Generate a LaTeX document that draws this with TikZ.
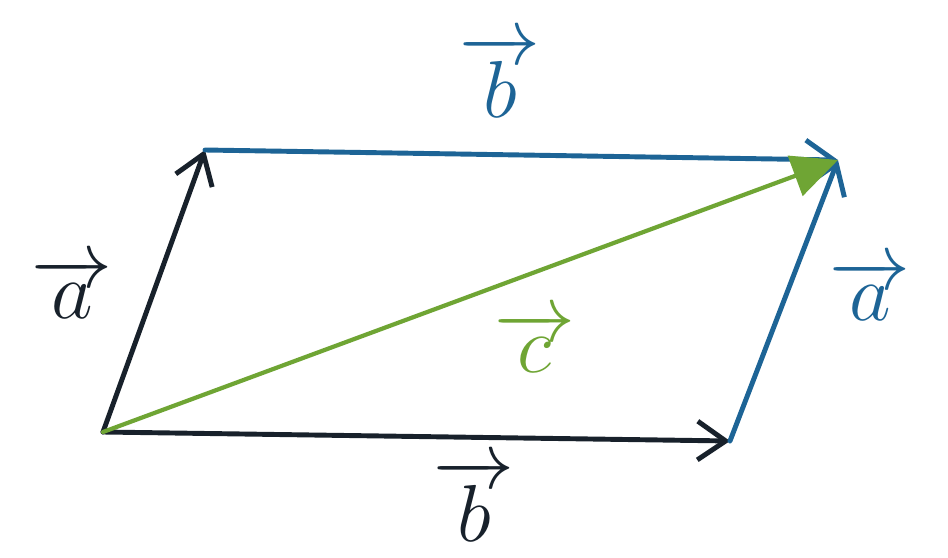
\documentclass[tikz,border=0pt]{standalone}
\usetikzlibrary{arrows.meta}
\definecolor{inkblack}{HTML}{18212B}
\definecolor{inkblue}{HTML}{1D6496}
\definecolor{inkgreen}{HTML}{6FA534}
\begin{document}
\begin{tikzpicture}[x=0.02cm,y=-0.02cm,
  vec/.style={line width=2.8pt,line cap=round,-{Straight Barb[length=16pt,width=22pt,line width=2.8pt]}},
  res/.style={line width=2.4pt,line cap=round,-{Triangle[length=26pt,width=24pt]}},
  lbl/.style={inner sep=0pt,font=\Huge,scale=1.85,transform shape}]
\useasboundingbox (0,0) rectangle (948,558);
\fill[white] (0,0) rectangle (948,558);
\coordinate (O) at (103,432);
\coordinate (A) at (205,150);
\coordinate (B) at (730,441);
\coordinate (C) at (838,160);
\draw[vec,inkblack] (O) -- (A);
\draw[vec,inkblack] (O) -- (B);
\draw[vec,inkblue] (A) -- (C);
\draw[vec,inkblue] (B) -- (C);
\draw[res,inkgreen] (O) -- (C);
\node[lbl,inkblack] (la) at (72,288) {$\overrightarrow{a}$};
\node[lbl,inkblue] (lb) at (500,76) {$\overrightarrow{b}$};
\node[lbl,inkblue] (ra) at (870,290) {$\overrightarrow{a}$};
\node[lbl,inkgreen] (lc) at (535,342) {$\overrightarrow{c}$};
\node[lbl,inkblack] (bb) at (474,500) {$\overrightarrow{b}$};
\end{tikzpicture}
\end{document}
